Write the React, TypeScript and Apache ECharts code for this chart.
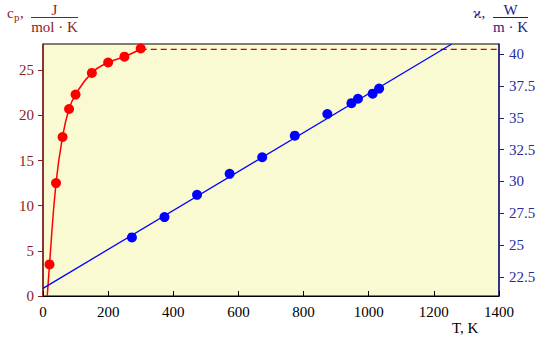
import React, { useEffect, useRef } from "react";
import * as echarts from "echarts";

// Heat capacity c_p (J/(mol·K)) vs T (K)
const cpT = [20, 40, 60, 80, 100, 150, 200, 250, 300];
const cpVal = [3.5, 12.5, 17.6, 20.7, 22.3, 24.7, 25.85, 26.5, 27.4];
// fitted curve: starts at T≈13 on the axis
const cpCurveT = [13, 20, 40, 60, 80, 100, 150, 200, 250, 300];
const cpCurveVal = [0, 3.5, 12.5, 17.6, 20.7, 22.3, 24.7, 25.85, 26.5, 27.35];
// high-temperature limit (dashed)
const cpLimitT = [300, 1400];
const cpLimitVal = [27.3, 27.3];

// Thermal conductivity κ (W/(m·K)) vs T (K)
const kT = [273, 373, 473, 573, 673, 773, 873, 947, 967, 1012, 1032];
const kVal = [25.6, 27.2, 28.95, 30.6, 31.9, 33.6, 35.3, 36.15, 36.5, 36.9, 37.3];
// fitted straight line
const kLineT = [0, 1255];
const kLineVal = [21.6, 40.8];

const xTicks = [0, 200, 400, 600, 800, 1000, 1200, 1400];
const leftTicks = [0, 5, 10, 15, 20, 25];
const rightTicks = [22.5, 25, 27.5, 30, 32.5, 35, 37.5, 40];

const RED_DARK = "#8b1c1c";
const NAVY = "#1c1c86";
const FONT = "Liberation Serif";

export default function App() {
  const ref = useRef<HTMLDivElement>(null);
  useEffect(() => {
    document.body.style.margin = "0";
    if (!ref.current) return;
    const chart = echarts.init(ref.current, undefined, { renderer: "svg" });
    const zip = (a: number[], b: number[]) => a.map((v, i) => [v, b[i]]);
    const plain = (v: number) => String(v);
    const txt = (text: string, x: number, y: number, fill: string, size: number, align = "left") => ({
      type: "text",
      x,
      y,
      style: { text, fill, fontSize: size, fontFamily: FONT, align },
    });
    chart.setOption({
      animation: false,
      backgroundColor: "#ffffff",
      textStyle: { fontFamily: FONT },
      grid: {
        left: 43,
        right: 46,
        top: 44,
        bottom: 45,
        show: true,
        backgroundColor: "#fafad2",
        borderColor: "#000",
        borderWidth: 1,
      },
      xAxis: {
        type: "value",
        min: 0,
        max: 1400,
        interval: 200,
        axisLine: { lineStyle: { color: "#000", width: 1 } },
        axisTick: { inside: true, length: 5, customValues: xTicks, lineStyle: { color: "#000" } },
        axisLabel: { color: "#000", fontSize: 15, fontFamily: FONT, margin: 8, formatter: plain, customValues: xTicks },
        splitLine: { show: false },
      },
      yAxis: [
        {
          type: "value",
          min: 0,
          max: 27.9,
          position: "left",
          axisLine: { show: true, lineStyle: { color: RED_DARK, width: 1.5 } },
          axisTick: {
            show: true,
            length: 5,
            customValues: leftTicks,
            lineStyle: { color: RED_DARK },
          },
          axisLabel: {
            color: RED_DARK,
            fontSize: 15,
            fontFamily: FONT,
            customValues: leftTicks,
            formatter: plain,
            margin: 9,
          },
          splitLine: { show: false },
        },
        {
          type: "value",
          min: 21,
          max: 40.8,
          position: "right",
          axisLine: { show: true, lineStyle: { color: NAVY, width: 1.5 } },
          axisTick: {
            show: true,
            length: 5,
            customValues: rightTicks,
            lineStyle: { color: NAVY },
          },
          axisLabel: {
            color: "#2a2a9c",
            fontSize: 15,
            fontFamily: FONT,
            customValues: rightTicks,
            formatter: plain,
            margin: 10,
          },
          splitLine: { show: false },
        },
      ],
      series: [
        {
          type: "line",
          yAxisIndex: 0,
          data: zip(cpLimitT, cpLimitVal),
          showSymbol: false,
          lineStyle: { color: "#d40000", width: 1.2, type: [6, 4] },
          z: 2,
        },
        {
          type: "line",
          yAxisIndex: 0,
          data: zip(cpCurveT, cpCurveVal),
          showSymbol: false,
          smooth: 0.5,
          lineStyle: { color: "#ff0000", width: 1.5 },
          z: 3,
        },
        {
          type: "line",
          yAxisIndex: 1,
          data: zip(kLineT, kLineVal),
          showSymbol: false,
          lineStyle: { color: "#0000ff", width: 1.3 },
          z: 4,
        },
        {
          type: "scatter",
          yAxisIndex: 0,
          data: zip(cpT, cpVal),
          symbolSize: 10,
          itemStyle: { color: "#ff0000", opacity: 1 },
          z: 5,
        },
        {
          type: "scatter",
          yAxisIndex: 1,
          data: zip(kT, kVal),
          symbolSize: 10,
          itemStyle: { color: "#0000ff", opacity: 1 },
          z: 5,
        },
      ],
      graphic: [
        // left axis title: c_p, J / (mol·K)
        txt("c", 7, 5, RED_DARK, 15),
        txt("p", 14, 11, RED_DARK, 11),
        txt(",", 20, 5, RED_DARK, 15),
        txt("J", 54.5, 2, RED_DARK, 15, "center"),
        { type: "line", shape: { x1: 31, y1: 17.5, x2: 78, y2: 17.5 }, style: { stroke: RED_DARK, lineWidth: 1 } },
        txt("mol · K", 54.5, 19, RED_DARK, 15, "center"),
        // right axis title: ϰ, W / (m·K)
        txt("ϰ,", 473, 5, NAVY, 15),
        txt("W", 510.5, 2, NAVY, 15, "center"),
        { type: "line", shape: { x1: 493, y1: 17.5, x2: 528, y2: 17.5 }, style: { stroke: NAVY, lineWidth: 1 } },
        txt("m · K", 510.5, 19, NAVY, 15, "center"),
        // x axis title
        txt("T, K", 452, 320, "#000", 15),
      ],
    });
    return () => chart.dispose();
  }, []);
  return <div ref={ref} style={{ width: 545, height: 341 }} />;
}
